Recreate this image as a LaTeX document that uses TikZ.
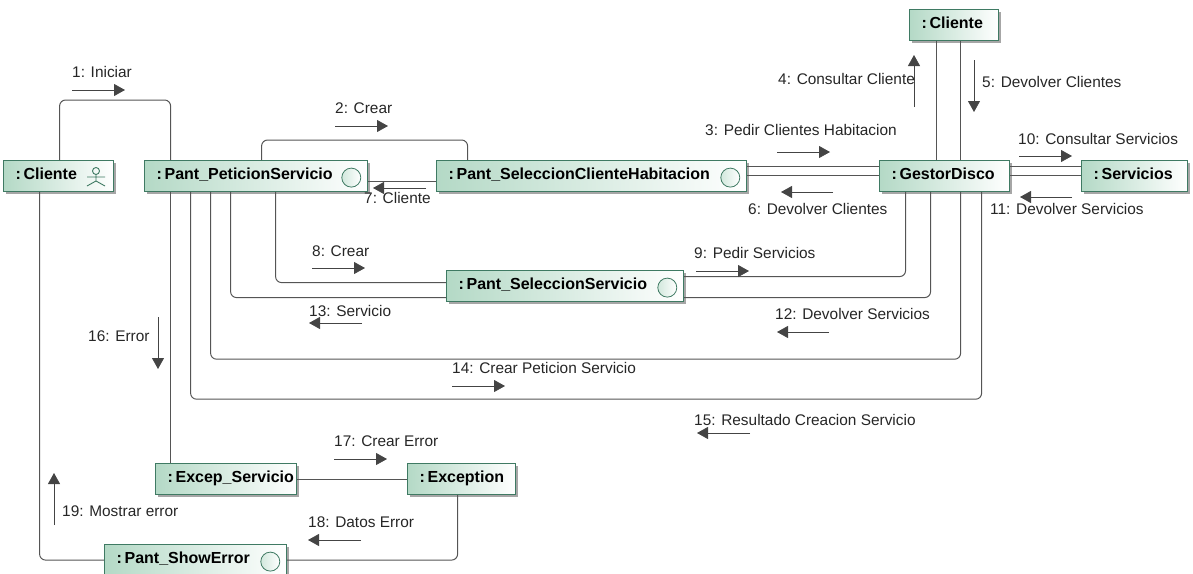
\documentclass[tikz,border=0pt]{standalone}
\usepackage{fontspec}
\setmainfont{Liberation Sans}
\usetikzlibrary{positioning}
\usetikzlibrary{arrows.meta}
\usetikzlibrary{shadows}
\definecolor{objgreen}{HTML}{B4D9C6}
\definecolor{objline}{HTML}{3F7A63}
\definecolor{linkgray}{HTML}{555555}
\definecolor{msggray}{HTML}{444444}
\tikzset{
  obj/.style={draw=objline, line width=1.2pt, left color=objgreen, right color=white,
    drop shadow={shadow xshift=2.5pt, shadow yshift=-2.5pt, fill=black!35, opacity=1},
    anchor=north west, minimum height=31pt, text width=#1pt-24pt, inner xsep=12pt, inner ysep=0pt,
    align=left, text height=12pt, text depth=5.5pt, font=\fontsize{16}{17}\selectfont\bfseries},
  bicon/.style={circle, draw=objline, line width=0.8pt, left color=objgreen!60, right color=white,
    minimum size=19pt, inner sep=0pt},
  link/.style={draw=linkgray, line width=1pt, rounded corners=6pt},
  msg/.style={draw=msggray, line width=0.8pt, -{Triangle[length=11pt,width=12pt]}},
  lbl/.style={anchor=west, inner sep=0pt, font=\fontsize{15.4}{17}\selectfont, text=black!85}
}
\begin{document}
\begin{tikzpicture}[x=1pt,y=-1pt]
\clip (0,0) rectangle (1193,573);

%objects
\node[obj=110] (actor) at (3,160) {:\,Cliente};
\node[obj=223] (peticion) at (144,160) {:\,Pant\_PeticionServicio};
\node[obj=310] (habitacion) at (436,160) {:\,Pant\_SeleccionClienteHabitacion};
\node[obj=130] (gestor) at (879,160) {:\,GestorDisco};
\node[obj=106] (servicios) at (1081,160) {:\,Servicios};
\node[obj=89] (cliente) at (909,9) {:\,Cliente};
\node[obj=237] (seleccion) at (446,270) {:\,Pant\_SeleccionServicio};
\node[obj=141] (excep) at (155,463) {:\,Excep\_Servicio};
\node[obj=108] (exception) at (407,463) {:\,Exception};
\node[obj=182] (showerror) at (104,544) {:\,Pant\_ShowError};

%icons
\node[bicon, left=7pt of peticion.east, yshift=-1.5pt] (ipeticion) {};
\node[bicon, left=7pt of habitacion.east, yshift=-1.5pt] (ihabitacion) {};
\node[bicon, left=7pt of seleccion.east, yshift=-1.5pt] (iseleccion) {};
\node[bicon, left=7pt of showerror.east, yshift=-1.5pt] (ishowerror) {};
\begin{scope}[shift={(96,171)}]
\draw[objline, line width=0.9pt] (0,0) circle (3.5pt);
\draw[objline, line width=0.9pt] (0,3.5) -- (0,10) (-9,6) -- (9,6) (-9,15) -- (0,10) -- (9,15);
\end{scope}

%links
\draw[link] ([xshift=1pt]actor.north) -- ++(0,-60) -| ([xshift=-85.5pt]peticion.north);
\draw[link] ([xshift=5.5pt]peticion.north) -- ++(0,-20) -| ([xshift=-124pt]habitacion.north);
\draw[link] ([yshift=-5.5pt]peticion.east) -- ([yshift=-5.5pt]peticion.east -| habitacion.west);
\draw[link] ([yshift=9.5pt]habitacion.east) -- ([yshift=9.5pt]habitacion.east -| gestor.west);
\draw[link] ([yshift=0.5pt]habitacion.east) -- ([yshift=0.5pt]habitacion.east -| gestor.west);
\draw[link] ([yshift=9.5pt]gestor.east) -- ([yshift=9.5pt]gestor.east -| servicios.west);
\draw[link] ([yshift=0.5pt]gestor.east) -- ([yshift=0.5pt]gestor.east -| servicios.west);
\draw[link] ([xshift=-8pt]gestor.north) -- ([xshift=-8pt]gestor.north |- cliente.south);
\draw[link] ([xshift=16pt]gestor.north) -- ([xshift=16pt]gestor.north |- cliente.south);
\draw[link] ([xshift=19.5pt]peticion.south) |- ([yshift=3.5pt]seleccion.west);
\draw[link] ([xshift=-25.5pt]peticion.south) |- ([yshift=-11.5pt]seleccion.west);
\draw[link] ([xshift=-39pt]gestor.south) |- ([yshift=9.5pt]seleccion.east);
\draw[link] ([xshift=-14pt]gestor.south) |- ([yshift=-11.5pt]seleccion.east);
\draw[link] ([xshift=-45.5pt]peticion.south) -- ++(0,167) -| ([xshift=16pt]gestor.south);
\draw[link] ([xshift=-65.5pt]peticion.south) -- ++(0,207) -| ([xshift=37pt]gestor.south);
\draw[link] ([xshift=-85.5pt]peticion.south) -- ([xshift=-85.5pt]peticion.south |- excep.north);
\draw[link] (excep.east) -- (exception.west);
\draw[link] ([xshift=-19pt]actor.south) |- (showerror.west);
\draw[link] ([xshift=-4pt]exception.south) |- (showerror.east);

%messages
\draw[msg] (72,90) -- (125,90);
\draw[msg] (335,126) -- (388,126);
\draw[msg] (777,152) -- (830,152);
\draw[msg] (914,107) -- (914,55);
\draw[msg] (974,60) -- (974,112);
\draw[msg] (833,192) -- (781,192);
\draw[msg] (426,188) -- (373,188);
\draw[msg] (312,268) -- (365,268);
\draw[msg] (696,271) -- (749,271);
\draw[msg] (1019,156) -- (1072,156);
\draw[msg] (1072,197) -- (1020,197);
\draw[msg] (829,332) -- (777,332);
\draw[msg] (362,323) -- (309,323);
\draw[msg] (452,386) -- (505,386);
\draw[msg] (750,433) -- (697,433);
\draw[msg] (158,317) -- (158,369);
\draw[msg] (334,459) -- (387,459);
\draw[msg] (361,540) -- (308,540);
\draw[msg] (54,525) -- (54,473);

%labels
\node[lbl] (m1) at (72,72) {1: Iniciar};
\node[lbl] (m2) at (335,108) {2: Crear};
\node[lbl] (m3) at (705,130) {3: Pedir Clientes Habitacion};
\node[lbl] (m4) at (778,79) {4: Consultar Cliente};
\node[lbl] (m5) at (982,82) {5: Devolver Clientes};
\node[lbl] (m6) at (748,209) {6: Devolver Clientes};
\node[lbl] (m7) at (364,198) {7: Cliente};
\node[lbl] (m8) at (312,251) {8: Crear};
\node[lbl] (m9) at (694,253) {9: Pedir Servicios};
\node[lbl] (m10) at (1018,139) {10: Consultar Servicios};
\node[lbl] (m11) at (990,209) {11: Devolver Servicios};
\node[lbl] (m12) at (775,314) {12: Devolver Servicios};
\node[lbl] (m13) at (309,311) {13: Servicio};
\node[lbl] (m14) at (452,368) {14: Crear Peticion Servicio};
\node[lbl] (m15) at (694,420) {15: Resultado Creacion Servicio};
\node[lbl] (m16) at (88,336) {16: Error};
\node[lbl] (m17) at (334,441) {17: Crear Error};
\node[lbl] (m18) at (308,522) {18: Datos Error};
\node[lbl] (m19) at (62,511) {19: Mostrar error};

\end{tikzpicture}
\end{document}
